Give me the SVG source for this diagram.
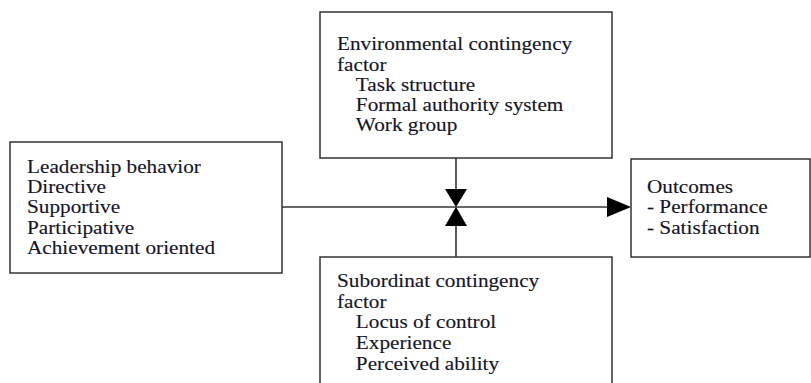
<svg xmlns="http://www.w3.org/2000/svg" width="811" height="383" viewBox="0 0 811 383">
  <style>
    .box { fill: #ffffff; stroke: #333333; stroke-width: 1.5; }
    .line { stroke: #333333; stroke-width: 1.6; fill: none; }
    .head { fill: #000000; stroke: none; }
    .lbl { font-family: "Liberation Serif", "Times New Roman", serif; font-size: 18px; fill: #141428; stroke: #141428; stroke-width: 0.12; }
  </style>
  <rect width="811" height="383" fill="#ffffff"/>

  <g id="connectors">
    <line class="line" x1="282" y1="207" x2="610" y2="207"/>
    <polygon class="head" points="607,197 631,207 607,217"/>
    <line class="line" x1="456" y1="158" x2="456" y2="192"/>
    <polygon class="head" points="445,189 467,189 456,207"/>
    <line class="line" x1="456" y1="257" x2="456" y2="223"/>
    <polygon class="head" points="445,226 467,226 456,207"/>
  </g>

  <g id="leadership">
    <rect class="box" x="10" y="142" width="272" height="131"/>
    <text class="lbl" transform="translate(27,0) scale(1.18,1)">
      <tspan x="0" y="173">Leadership behavior</tspan>
      <tspan x="0" y="193.5">Directive</tspan>
      <tspan x="0" y="213.5">Supportive</tspan>
      <tspan x="0" y="234">Participative</tspan>
      <tspan x="0" y="254">Achievement oriented</tspan>
    </text>
  </g>

  <g id="environmental">
    <rect class="box" x="320" y="12" width="292" height="146"/>
    <text class="lbl" transform="translate(337,0) scale(1.18,1)">
      <tspan x="0" y="50.5">Environmental contingency</tspan>
      <tspan x="0" y="71">factor</tspan>
      <tspan x="16" y="91.5">Task structure</tspan>
      <tspan x="16" y="111.5">Formal authority system</tspan>
      <tspan x="16" y="131.5">Work group</tspan>
    </text>
  </g>

  <g id="subordinate">
    <rect class="box" x="320" y="257" width="292" height="140"/>
    <text class="lbl" transform="translate(337,0) scale(1.18,1)">
      <tspan x="0" y="287.5">Subordinat contingency</tspan>
      <tspan x="0" y="308">factor</tspan>
      <tspan x="16" y="328.5">Locus of control</tspan>
      <tspan x="16" y="349">Experience</tspan>
      <tspan x="16" y="370">Perceived ability</tspan>
    </text>
  </g>

  <g id="outcomes">
    <rect class="box" x="631" y="159" width="179" height="98"/>
    <text class="lbl" transform="translate(647,0) scale(1.18,1)">
      <tspan x="0" y="193">Outcomes</tspan>
      <tspan x="0" y="213.5">- Performance</tspan>
      <tspan x="0" y="234">- Satisfaction</tspan>
    </text>
  </g>
</svg>
